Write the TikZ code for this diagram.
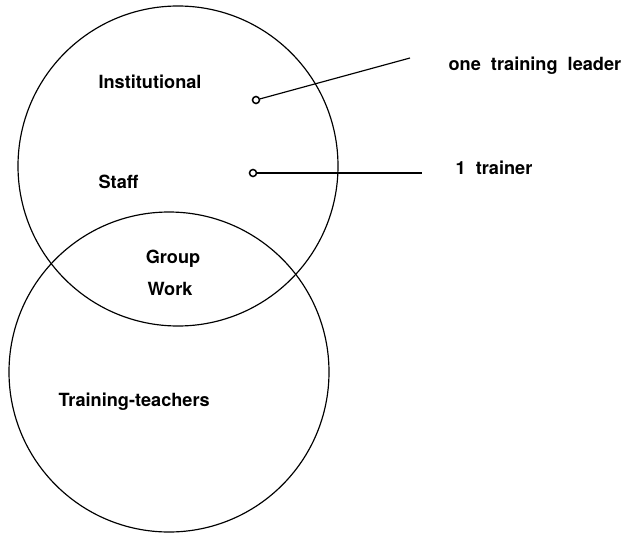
\documentclass[tikz,border=0pt]{standalone}
\usepackage{fontspec}
\setmainfont{TeX Gyre Heros}
\usetikzlibrary{calc}

\tikzset{
  lbl/.style={font=\bfseries\fontsize{15.5}{18}\selectfont, inner sep=0pt},
  dot/.style={draw, circle, line width=1.3pt, minimum size=0.21cm, inner sep=0pt}
}

\begin{document}
\begin{tikzpicture}[line width=1pt]
      \useasboundingbox (0,0) rectangle (19.11,-16.02);
        \draw (5.34,-4.98) circle (4.8);
        \draw (5.07,-11.16) circle (4.8);

        \node[dot] (lead) at (7.68,-3.0) {};
        \node[dot] (trn) at (7.59,-5.19) {};
        \coordinate (leadend) at (12.3,-1.74);
        \coordinate (trnend) at (12.66,-5.19);
        \draw (lead)-- (leadend);
        \draw (trn)-- (trnend);

        \node[lbl, anchor=west] (inst) at (2.94,-2.46) {Institutional};
        \node[lbl, anchor=west] (staff) at (2.94,-5.46) {Staff};
        \node[lbl] (group) at (5.19,-7.77) {Group};
        \node[lbl] (work) at (5.1,-8.67) {Work};
        \node[lbl, anchor=west] (tt) at (1.74,-12.06) {Training-teachers};

        \node[lbl, anchor=west] (leader) at (13.44,-1.98) {one\ \ training\ \ leader};
        \node[lbl, anchor=west] (trainer) at (13.65,-5.04) {1\ \ trainer};
      \end{tikzpicture}
\end{document}
